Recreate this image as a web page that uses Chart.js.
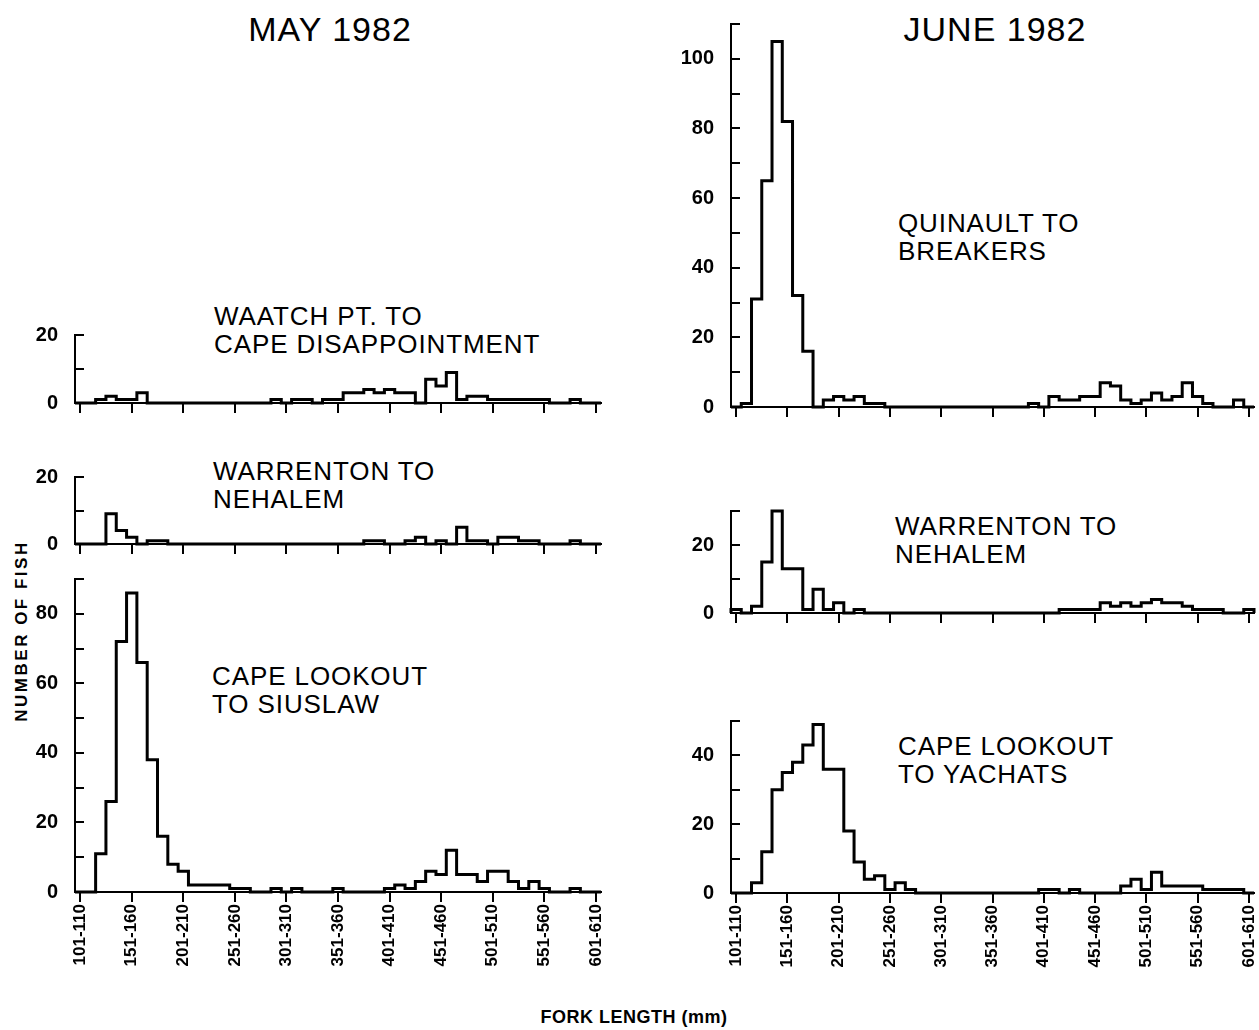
<!DOCTYPE html>
<html>
<head>
<meta charset="utf-8">
<script src="https://cdn.jsdelivr.net/npm/chart.js@4/dist/chart.umd.min.js"></script>
<style>
  body { margin: 0; background: #fff; width: 1259px; height: 1030px; position: relative; overflow: hidden;
         font-family: "Liberation Sans", Arial, sans-serif; color: #000; }
  canvas, .txt { position: absolute; }
  .col { font-size: 34px; line-height: 34px; width: 300px; text-align: center; letter-spacing: 1px; }
  .lbl { font-size: 26px; line-height: 28px; white-space: nowrap; letter-spacing: 0.9px; }
  .ax { font-size: 17px; font-weight: bold; line-height: 20px; white-space: nowrap; }
</style>
</head>
<body>
<div class="txt col" style="left:180px;top:12px">MAY 1982</div>
<div class="txt col" style="left:845px;top:12px">JUNE 1982</div>

<div class="txt lbl" style="left:214px;top:302px">WAATCH PT. TO<br>CAPE DISAPPOINTMENT</div>
<div class="txt lbl" style="left:213px;top:457px">WARRENTON TO<br>NEHALEM</div>
<div class="txt lbl" style="left:212px;top:662px">CAPE LOOKOUT<br>TO SIUSLAW</div>
<div class="txt lbl" style="left:898px;top:209px">QUINAULT TO<br>BREAKERS</div>
<div class="txt lbl" style="left:895px;top:512px">WARRENTON TO<br>NEHALEM</div>
<div class="txt lbl" style="left:898px;top:732px">CAPE LOOKOUT<br>TO YACHATS</div>

<div class="txt ax" style="left:22px;top:631px;letter-spacing:2.5px;transform:translate(-50%,-50%) rotate(-90deg)">NUMBER OF FISH</div>
<div class="txt ax" style="left:634px;top:1007px;font-size:18px;letter-spacing:0.5px;transform:translateX(-50%)">FORK LENGTH (mm)</div>

<script>
"use strict";

// fork length bins of 10 mm, 101-110 ... 601-610 (51 bins); labels every 5th bin
const tickBins = [0, 5, 10, 15, 20, 25, 30, 35, 40, 45, 50];
const binLabels = ['101-110', '151-160', '201-210', '251-260', '301-310', '351-360',
                   '401-410', '451-460', '501-510', '551-560', '601-610'];

// May 1982
const mayWaatch = [0,0,1,2,1,1,3,0,0,0, 0,0,0,0,0,0,0,0,0,1, 0,1,1,0,1,1,3,3,4,3,
                   4,3,3,0,7,5,9,1,2,2, 1,1,1,1,1,1,0,0,1,0, 0];
const mayWarrenton = [0,0,0,9,4,2,0,1,1,0, 0,0,0,0,0,0,0,0,0,0, 0,0,0,0,0,0,0,0,1,1,
                      0,0,1,2,0,1,0,5,1,1, 0,2,2,1,1,0,0,0,1,0, 0];
const maySiuslaw = [0,0,11,26,72,86,66,38,16,8, 6,2,2,2,2,1,1,0,0,1, 0,1,0,0,0,1,0,0,0,0,
                    1,2,1,3,6,5,12,5,5,3, 6,6,3,1,3,1,0,0,1,0, 0];

// June 1982
const juneQuinault = [0,1,31,65,105,82,32,16,0,2, 3,2,3,1,1,0,0,0,0,0, 0,0,0,0,0,0,0,0,0,1,
                      0,3,2,2,3,3,7,6,2,1, 2,4,2,3,7,3,1,0,0,2, 0];
const juneWarrenton = [1,0,2,15,30,13,13,1,7,1, 3,0,1,0,0,0,0,0,0,0, 0,0,0,0,0,0,0,0,0,0,
                       0,0,1,1,1,1,3,2,3,2, 3,4,3,3,2,1,1,1,0,0, 1];
const juneYachats = [0,0,3,12,30,35,38,43,49,36, 36,18,9,4,5,1,3,1,0,0, 0,0,0,0,0,0,0,0,0,0,
                     1,1,0,1,0,0,0,0,2,4, 1,6,2,2,2,2,1,1,1,1, 0];

// plot areas on the page: [left, top, right, bottom]
const panels = [
  { counts: mayWaatch,     yMax: 20,  area: [75, 335, 601, 403], labels: false },
  { counts: mayWarrenton,  yMax: 20,  area: [75, 477, 601, 544], labels: false },
  { counts: maySiuslaw,    yMax: 90,  area: [75, 579, 601, 892], labels: true },
  { counts: juneQuinault,  yMax: 110, area: [731, 24, 1254, 407], labels: false },
  { counts: juneWarrenton, yMax: 30,  area: [731, 511, 1254, 613], labels: false },
  { counts: juneYachats,   yMax: 50,  area: [731, 721, 1254, 893], labels: true }
];

Chart.defaults.font.family = '"Liberation Sans", Arial, sans-serif';
Chart.defaults.color = '#000';

// y ticks point into the plot
const innerTicks = {
  id: 'innerTicks',
  afterDraw(chart) {
    const ys = chart.scales.y, ctx = chart.ctx, x0 = chart.chartArea.left;
    ctx.save();
    ctx.strokeStyle = '#000';
    ctx.lineWidth = 2;
    ys.ticks.forEach(t => {
      const py = Math.round(ys.getPixelForValue(t.value));
      ctx.beginPath();
      ctx.moveTo(x0, py);
      ctx.lineTo(x0 + 9, py);
      ctx.stroke();
    });
    ctx.restore();
  }
};

function steps(counts) {
  const pts = [{ x: -0.5, y: 0 }];
  counts.forEach((c, i) => pts.push({ x: i - 0.5, y: c }));
  pts.push({ x: counts.length - 0.5, y: 0 });
  return pts;
}

panels.forEach(p => {
  const padTop = 24, padRight = 20, yW = 60, xH = p.labels ? 95 : 24;
  const [l, t, r, b] = p.area;
  const cv = document.createElement('canvas');
  cv.width = (r - l) + yW + padRight;
  cv.height = (b - t) + padTop + xH;
  cv.style.left = (l - yW) + 'px';
  cv.style.top = (t - padTop) + 'px';
  cv.style.width = cv.width + 'px';
  cv.style.height = cv.height + 'px';
  document.body.appendChild(cv);

  new Chart(cv.getContext('2d'), {
    type: 'line',
    data: {
      datasets: [{
        data: steps(p.counts),
        stepped: true,
        borderColor: '#000',
        borderWidth: 3,
        borderJoinStyle: 'miter',
        pointRadius: 0,
        fill: false,
        clip: false
      }]
    },
    options: {
      responsive: false,
      animation: false,
      layout: { padding: { top: padTop, right: padRight, bottom: 0, left: 0 } },
      plugins: { legend: { display: false }, tooltip: { enabled: false } },
      scales: {
        x: {
          type: 'linear',
          min: -0.5,
          max: 50.5,
          afterBuildTicks: s => { s.ticks = tickBins.map(v => ({ value: v })); },
          afterFit: s => { s.height = xH; },
          grid: { drawOnChartArea: false, color: '#000', lineWidth: 2, tickLength: 10 },
          border: { display: true, color: '#000', width: 2 },
          ticks: {
            display: p.labels,
            autoSkip: false,
            minRotation: 90,
            maxRotation: 90,
            padding: 2,
            font: { size: 17, weight: 'bold' },
            callback: v => binLabels[tickBins.indexOf(v)]
          }
        },
        y: {
          min: 0,
          max: p.yMax,
          afterFit: s => { s.width = yW; },
          grid: { display: false },
          border: { display: true, color: '#000', width: 2 },
          ticks: {
            stepSize: 10,
            padding: 9,
            font: { size: 20, weight: 'bold' },
            callback: v => (v % 20 === 0 ? v : '')
          }
        }
      }
    },
    plugins: [innerTicks]
  });
});
</script>
</body>
</html>
